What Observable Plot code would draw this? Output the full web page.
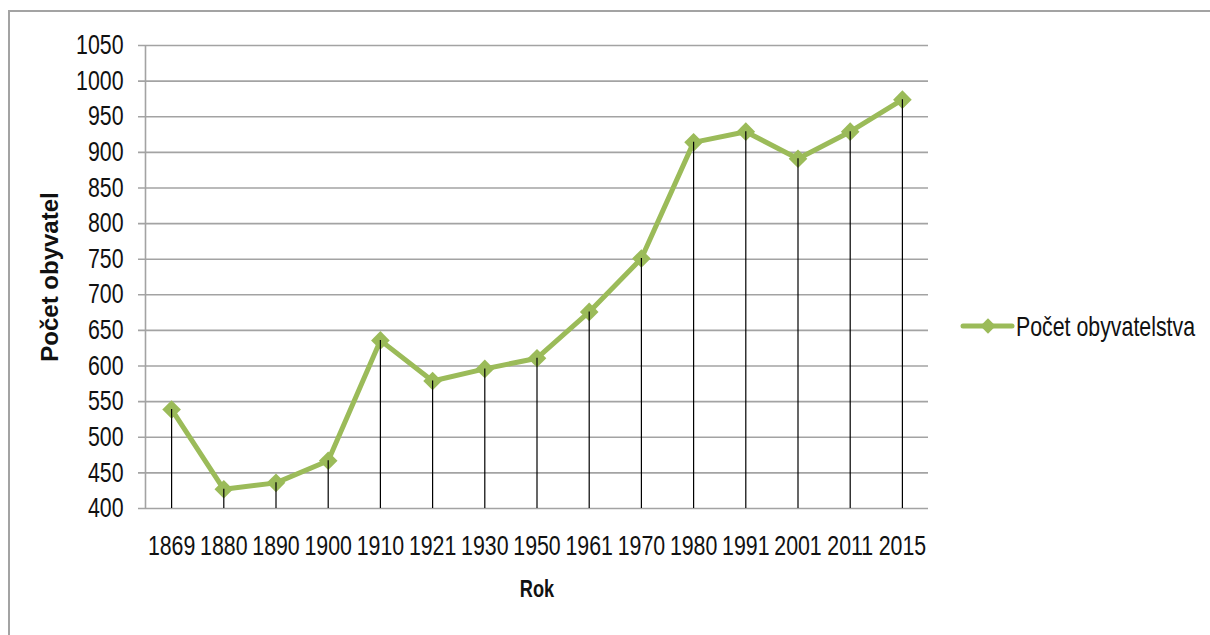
<!DOCTYPE html>
<html>
<head>
<meta charset="utf-8">
<script src="https://cdn.jsdelivr.net/npm/d3@7"></script>
<script src="https://cdn.jsdelivr.net/npm/@observablehq/plot@0.6"></script>
<style>
  html, body { margin: 0; padding: 0; background: #fff; }
  #wrap { position: relative; width: 1210px; height: 635px; overflow: hidden; font-family: "Liberation Sans", Arial, sans-serif; }
  #border { position: absolute; left: 8px; top: 10px; width: 1300px; height: 700px; border-top: 2px solid #a3a3a3; border-left: 2px solid #a3a3a3; }
  #chart { position: absolute; left: 0; top: 0; }
  #legend { position: absolute; left: 960px; top: 310px; }
</style>
</head>
<body>
<div id="wrap">
  <div id="border"></div>
  <div id="chart"></div>
  <div id="legend"></div>
</div>
<script>
const years = ["1869","1880","1890","1900","1910","1921","1930","1950","1961","1970","1980","1991","2001","2011","2015"];
const population = [539, 427, 436, 467, 636, 579, 596, 611, 676, 751, 914, 929, 891, 929, 974];
const yTicks = [400,450,500,550,600,650,700,750,800,850,900,950,1000,1050];
const seriesName = "Počet obyvatelstva";
const xTitle = "Rok";
const yTitle = "Počet obyvatel";
const green = "#9BBB59";
const gridColor = "#a3a3a3";
const narrow = 0.79; // horizontal squeeze to mimic a narrow face
const tickFont = 27;

const data = years.map((year, i) => ({i, year, value: population[i]}));
const xDomain = [-0.5, years.length - 0.5];

const chart = Plot.plot({
  width: 1210,
  height: 635,
  marginLeft: 145,
  marginRight: 282,
  marginTop: 45,
  marginBottom: 127,
  style: {background: "transparent", fontFamily: "'Liberation Sans', Arial, sans-serif", fontSize: tickFont + "px", color: "#111"},
  x: {type: "linear", domain: xDomain},
  y: {domain: [yTicks[0], yTicks[yTicks.length - 1]]},
  marks: [
    Plot.ruleY(yTicks, {stroke: gridColor, strokeWidth: 1.6, insetLeft: -7}),
    Plot.ruleX([xDomain[0]], {y1: yTicks[0], y2: yTicks[yTicks.length - 1], stroke: gridColor, strokeWidth: 1.6}),
    Plot.axisY({ticks: yTicks, tickFormat: d => String(d), tickSize: 0, tickPadding: 22, fontSize: tickFont, label: yTitle, labelArrow: "none", labelAnchor: "center", labelOffset: 105}),
    Plot.axisX({ticks: d3.range(years.length), tickFormat: i => years[i], tickSize: 0, tickPadding: 27, fontSize: tickFont, label: xTitle, labelArrow: "none", labelAnchor: "center", labelOffset: 88}),
    Plot.line(data, {x: "i", y: "value", stroke: green, strokeWidth: 5}),
    Plot.dot(data, {x: "i", y: "value", symbol: "diamond2", r: 8.4, fill: green, stroke: "none"}),
    Plot.ruleX(data, {x: "i", y1: yTicks[0], y2: "value", stroke: "#000", strokeWidth: 1.2})
  ]
});
document.getElementById("chart").appendChild(chart);

// squeeze text horizontally around its anchor, keeping vertical offsets
function squeeze(sel, k) {
  sel.each(function() {
    const t = d3.select(this);
    const xa = t.attr("x");
    let x = 0;
    if (xa !== null && !isNaN(+xa)) { x = +xa; t.attr("x", null); }
    const tr = t.attr("transform") || "";
    t.attr("transform", `${tr} translate(${x},0) scale(${k},1)`);
  });
}

const svg = d3.select(chart);
svg.selectAll('g[aria-label="y-axis label"] text, g[aria-label="x-axis label"] text')
  .each(function() { this.textContent = this.textContent.replace(/[↑↓←→]/g, "").trim(); })
  .style("font-weight", "bold");
svg.selectAll('g[aria-label="y-axis label"] text').style("font-size", "24px");
svg.selectAll('g[aria-label="x-axis label"] text').style("font-size", "23px");
squeeze(svg.selectAll('g[aria-label="y-axis tick label"] text, g[aria-label="x-axis tick label"] text, g[aria-label="x-axis label"] text'), narrow);

// Legend
const leg = d3.select("#legend").append("svg").attr("width", 250).attr("height", 34)
  .style("font-family", "'Liberation Sans', Arial, sans-serif");
leg.append("line").attr("x1", 3).attr("x2", 52).attr("y1", 16).attr("y2", 16)
  .attr("stroke", green).attr("stroke-width", 5).attr("stroke-linecap", "round");
leg.append("path").attr("d", d3.symbol(d3.symbolDiamond2, 150)()).attr("transform", "translate(28,16)").attr("fill", green);
leg.append("text").attr("transform", `translate(56,26) scale(${narrow},1)`)
  .attr("font-size", tickFont).attr("fill", "#111").text(seriesName);
</script>
</body>
</html>
